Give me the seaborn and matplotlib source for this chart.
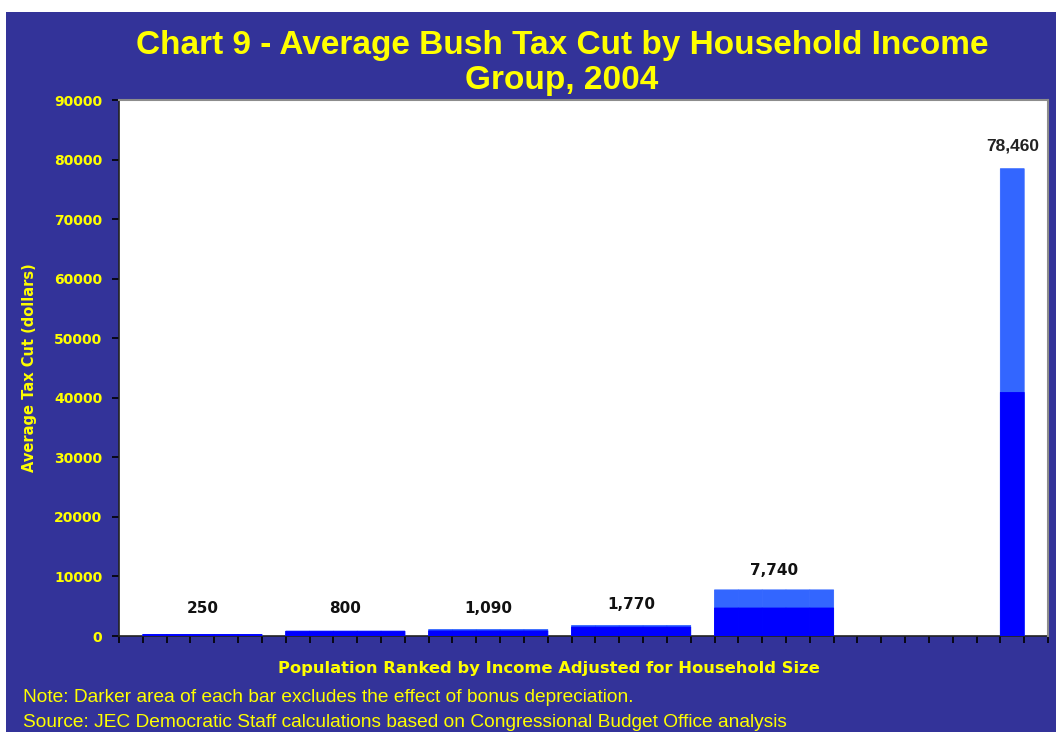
import numpy as np
import pandas as pd
import matplotlib
matplotlib.use("Agg")
import matplotlib.pyplot as plt
import seaborn as sns

# Average tax cut per household income group (dollars)
groups = ["Lowest 20%", "Second 20%", "Middle 20%", "Fourth 20%", "Next 15%", "Top 1%"]
total_cut = [250, 800, 1090, 1770, 7740, 78460]
cut_excl_bonus = [250, 800, 850, 1500, 4700, 40900]
value_labels = ["250", "800", "1,090", "1,770", "7,740", "78,460"]
y_ticks = [0, 10000, 20000, 30000, 40000, 50000, 60000, 70000, 80000, 90000]

# Column layout: the category axis is split into equal slots; each group
# occupies a run of adjacent slots so the columns merge into wide blocks.
N_SLOTS = 39
first_slot = [1, 7, 13, 19, 25, 37]
slot_count = [5, 5, 5, 5, 5, 1]
label_y = [4700, 4700, 4700, 5300, 11000, 82300]

PANEL = "#333399"
YELLOW = "#FFFF00"
DARK = "#0000FF"
LIGHT = "#3366FF"

rows = []
for s in range(N_SLOTS):
    rows.append({"slot": f"s{s}", "group": "", "total": 0.0, "excl": 0.0})
for g, f, n, t, e in zip(groups, first_slot, slot_count, total_cut, cut_excl_bonus):
    for s in range(f, f + n):
        rows[s].update(group=g, total=t, excl=e)
df = pd.DataFrame(rows)
order = list(df["slot"])

sns.set_theme(style="white")
plt.rcParams["font.family"] = ["Liberation Sans", "DejaVu Sans"]

fig = plt.figure(figsize=(10.56, 7.32), dpi=100)
fig.patch.set_facecolor("white")
# blue panel behind the chart (small white margin at top and left)
fig.add_artist(plt.Rectangle((6 / 1056, 0), 1 - 6 / 1056, 1 - 12 / 732,
                             transform=fig.transFigure, facecolor=PANEL,
                             edgecolor="none", zorder=-10))

ax = fig.add_axes([119 / 1056, 1 - 636 / 732, (1048 - 119) / 1056, (636 - 100) / 732])
ax.set_facecolor("white")

sns.barplot(data=df, x="slot", y="total", order=order, color=LIGHT,
            saturation=1, width=1, linewidth=0, errorbar=None, ax=ax)
sns.barplot(data=df, x="slot", y="excl", order=order, color=DARK,
            saturation=1, width=1, linewidth=0, errorbar=None, ax=ax)
for p in ax.patches:
    if p.get_height() <= 0:
        p.set_visible(False)
        continue
    # same-colour outline closes the seams between neighbouring slots
    p.set_zorder(3)
    p.set_snap(False)
    p.set_edgecolor(p.get_facecolor())
    p.set_linewidth(0.6)

ax.set_xlim(-0.5, N_SLOTS - 0.5)
ax.set_ylim(0, 90000)
ax.set_xticks(np.arange(N_SLOTS + 1) - 0.5)
ax.set_xticklabels([])
ax.set_yticks(y_ticks)
ax.set_yticklabels([str(v) for v in y_ticks])
ax.tick_params(axis="both", which="both", direction="out", length=5, width=1.2,
               color="black", bottom=True, left=True)
ax.tick_params(axis="y", labelsize=10, labelcolor=YELLOW, pad=7)
for lab in ax.get_yticklabels():
    lab.set_fontweight("bold")
    lab.set_family(["DejaVu Sans"])
ax.set_xlabel("")
ax.set_ylabel("")

for side in ["left", "bottom"]:
    ax.spines[side].set_color("#222222")
    ax.spines[side].set_linewidth(1.2)
    ax.spines[side].set_zorder(2)
for side in ["top", "right"]:
    ax.spines[side].set_color("#8c8c8c")
    ax.spines[side].set_linewidth(1.5)

# value labels above each group
for f, n, txt, ly, g in zip(first_slot, slot_count, value_labels, label_y, groups):
    cx = f + (n - 1) / 2
    if g == "Top 1%":
        ax.text(cx, ly, txt, ha="center", va="center", fontsize=12.5,
                fontweight="bold", color="#222222")
    else:
        ax.text(cx, ly, txt, ha="center", va="center", fontsize=11,
                fontweight="bold", color="#111111", family=["DejaVu Sans"])

fig.text(562 / 1056, 1 - 63 / 732,
         "Chart 9 - Average Bush Tax Cut by Household Income\nGroup, 2004",
         ha="center", va="center", fontsize=24, fontweight="bold",
         color=YELLOW, linespacing=1.2)
fig.text(30 / 1056, 1 - 368 / 732, "Average Tax Cut (dollars)", rotation=90,
         ha="center", va="center", fontsize=10.5, fontweight="bold", color=YELLOW,
         family=["DejaVu Sans"])
fig.text(549 / 1056, 1 - 668 / 732,
         "Population Ranked by Income Adjusted for Household Size",
         ha="center", va="center", fontsize=11.8, fontweight="bold",
         color=YELLOW, family=["DejaVu Sans"])
fig.text(23 / 1056, 1 - 702 / 732,
         "Note: Darker area of each bar excludes the effect of bonus depreciation.",
         ha="left", va="baseline", fontsize=13.75, color=YELLOW)
fig.text(23 / 1056, 1 - 727 / 732,
         "Source: JEC Democratic Staff calculations based on Congressional Budget Office analysis",
         ha="left", va="baseline", fontsize=13.75, color=YELLOW)

fig.savefig("out.png", dpi=100, facecolor=fig.get_facecolor())
